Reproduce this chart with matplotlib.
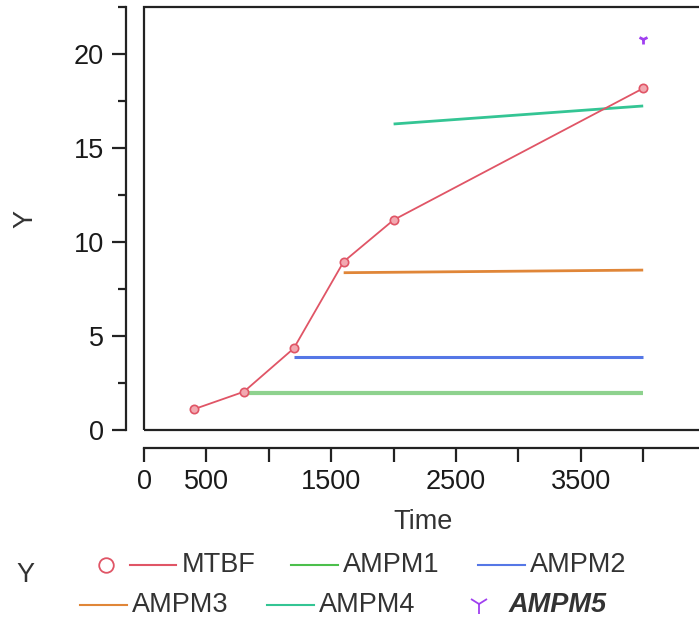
import matplotlib
matplotlib.use('Agg')
import matplotlib.pyplot as plt
from matplotlib.lines import Line2D
from matplotlib.patches import Rectangle

# ---- data ----
mtbf_time = [400, 800, 1200, 1600, 2000, 4000]
mtbf_vals = [1.08, 2.01, 4.32, 8.94, 11.16, 18.17]
ampm1_time = [800, 4000]
ampm1_vals = [1.93, 1.93]
ampm2_time = [1200, 4000]
ampm2_vals = [3.88, 3.88]
ampm3_time = [1600, 4000]
ampm3_vals = [8.35, 8.49]
ampm4_time = [2000, 4000]
ampm4_vals = [16.27, 17.23]
ampm5_time = [4000]
ampm5_vals = [20.79]

y_major = [0, 5, 10, 15, 20]
y_minor = [2.5, 7.5, 12.5, 17.5, 22.5]
x_major = [0, 500, 1000, 1500, 2000, 2500, 3000, 3500, 4000]
x_labels = ['0', '500', '', '1500', '', '2500', '', '3500', '']

# ---- style ----
C_RED = '#E05566'
C_RED_FILL = '#F2A9B1'
C_GREEN = '#8ED28E'
C_BLUE = '#5577E6'
C_ORANGE = '#E08638'
C_TEAL = '#34C594'
C_PURPLE = '#A040F0'
INK = '#222222'
TXT = '#333333'
FS = 19.5

plt.rcParams['font.family'] = ['Liberation Sans', 'DejaVu Sans']

W, H, DPI = 699, 620, 100
fig = plt.figure(figsize=(W / DPI, H / DPI), dpi=DPI)


def fx(px):
    return px / W


def fy(py):
    return 1 - py / H


left_px, right_px, top_px, bot_px = 144, 702, 7, 429.5
ax = fig.add_axes([fx(left_px), fy(bot_px), fx(right_px - left_px), (bot_px - top_px) / H])

ax.plot(ampm1_time, ampm1_vals, color=C_GREEN, lw=3.0, solid_capstyle='butt', zorder=2)
ax.plot(ampm2_time, ampm2_vals, color=C_BLUE, lw=2.2, solid_capstyle='butt', zorder=2)
ax.plot(ampm3_time, ampm3_vals, color=C_ORANGE, lw=2.0, solid_capstyle='butt', zorder=2)
ax.plot(ampm4_time, ampm4_vals, color=C_TEAL, lw=2.0, solid_capstyle='butt', zorder=2)
ax.plot(mtbf_time, mtbf_vals, color=C_RED, lw=1.3, marker='o', markersize=6,
        markerfacecolor=C_RED_FILL, markeredgecolor=C_RED, markeredgewidth=1.2, zorder=3)
ax.plot(ampm5_time, ampm5_vals, linestyle='none', marker='1', markersize=7,
        markeredgewidth=2, color=C_PURPLE, zorder=4)

ax.set_xlim(0, (right_px - left_px) / 0.1248)
ax.set_ylim(0, 22.47)

# frame
ax.add_patch(Rectangle((0, 0), 1, 1, transform=ax.transAxes, fill=False,
                       lw=1.6, ec=INK, clip_on=False, zorder=5))
ax.spines['top'].set_visible(False)
ax.spines['right'].set_visible(False)
for s in ('left', 'bottom'):
    ax.spines[s].set_position(('outward', 13.3))
    ax.spines[s].set_linewidth(1.6)
    ax.spines[s].set_color(INK)

ax.set_yticks(y_major)
ax.set_yticks(y_minor, minor=True)
ax.set_xticks(x_major)
ax.set_xticklabels(x_labels)
ax.tick_params(axis='both', which='major', length=10, width=1.6, color=INK,
               labelsize=FS, labelcolor='#1a1a1a')
ax.tick_params(axis='y', which='major', pad=5.5)
ax.tick_params(axis='x', which='major', pad=5)
ax.tick_params(axis='y', which='minor', length=6, width=1.6, color=INK)

fig.text(fx(25), fy(219), 'Y', rotation=90, ha='center', va='center', fontsize=FS, color=TXT)
fig.text(fx(423), fy(522), 'Time', ha='center', va='center', fontsize=FS, color=TXT)

# ---- legend ----
def leg_line(x0, x1, y, color, lw=2.0):
    fig.add_artist(Line2D([fx(x0), fx(x1)], [fy(y), fy(y)], color=color, lw=lw,
                          transform=fig.transFigure))


def leg_text(x, y, s, **kw):
    fig.text(fx(x), fy(y), s, ha='left', va='center', fontsize=FS, color=TXT, **kw)


fig.text(fx(25), fy(575), 'Y', ha='center', va='center', fontsize=FS, color=TXT)
r1, r2 = 565, 605
fig.add_artist(Line2D([fx(106)], [fy(r1)], marker='o', markersize=10.5, markerfacecolor='none',
                      markeredgecolor=C_RED, markeredgewidth=1.3, linestyle='none',
                      transform=fig.transFigure))
leg_line(130, 176, r1, C_RED, 1.5)
leg_text(182, r1, 'MTBF')
leg_line(291, 338, r1, '#4CBF4C', 1.5)
leg_text(343, r1, 'AMPM1')
leg_line(478, 525, r1, C_BLUE, 1.5)
leg_text(530, r1, 'AMPM2')
leg_line(80, 127, r2, C_ORANGE, 1.5)
leg_text(132, r2, 'AMPM3')
leg_line(267, 314, r2, C_TEAL, 1.5)
leg_text(319, r2, 'AMPM4')
fig.add_artist(Line2D([fx(479)], [fy(r2 - 1)], marker='1', markersize=15, markeredgewidth=1.3,
                      color=C_PURPLE, linestyle='none', transform=fig.transFigure))
leg_text(509, r2, 'AMPM5', fontweight='bold', fontstyle='italic')

fig.savefig('out.png', dpi=DPI)
